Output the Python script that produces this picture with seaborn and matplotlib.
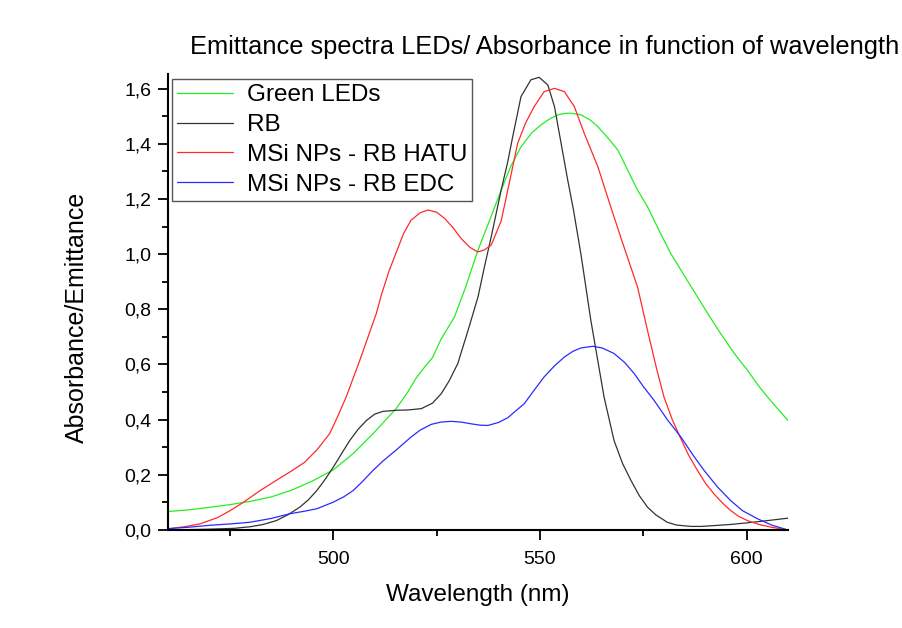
import numpy as np
import pandas as pd
import matplotlib
matplotlib.use("Agg")
import matplotlib.pyplot as plt
from matplotlib.ticker import MultipleLocator, FuncFormatter
import seaborn as sns

# ---- data ----
green_x = [460, 465, 470, 475, 480, 485, 490, 495, 500, 504.8, 509.6, 515.2, 518, 520, 522.1, 524,
           526, 529.3, 532, 535, 538, 540.6, 543, 545.4, 548, 550.2, 552.3, 554.3, 556, 557.5, 559.9,
           562, 564, 566.5, 568.8, 571.2, 573.6, 576, 579, 581.6, 585, 588.1, 591, 593.7, 597, 600.2,
           603, 606, 610]
green_y = [0.067, 0.073, 0.082, 0.092, 0.104, 0.12, 0.145, 0.178, 0.218, 0.277, 0.349, 0.44, 0.5, 0.55,
           0.591, 0.625, 0.69, 0.772, 0.88, 1.015, 1.13, 1.232, 1.32, 1.389, 1.44, 1.468, 1.49, 1.505,
           1.51, 1.511, 1.505, 1.488, 1.462, 1.42, 1.378, 1.305, 1.232, 1.172, 1.08, 1.003, 0.92, 0.845,
           0.775, 0.712, 0.64, 0.579, 0.52, 0.465, 0.397]

rb_x = [460, 470, 476, 480, 483, 486.2, 489, 491.9, 494, 496, 498, 500, 502, 504, 506, 508, 510, 512,
        515.2, 518, 521.3, 524, 526.1, 528, 530.1, 532.6, 535, 536.5, 538.2, 540.6, 542.2, 543.4, 545.4,
        547.8, 549.8, 551.9, 553.5, 555.1, 556.7, 558.1, 559.9, 562.3, 565.5, 567.9, 570, 572, 574, 576,
        578, 580.8, 583, 586.5, 589, 592.1, 596, 600.2, 605, 610]
rb_y = [0.0, 0.003, 0.006, 0.012, 0.02, 0.034, 0.055, 0.083, 0.11, 0.143, 0.183, 0.228, 0.277, 0.325,
        0.365, 0.397, 0.42, 0.43, 0.434, 0.435, 0.44, 0.46, 0.494, 0.54, 0.603, 0.724, 0.845, 0.95, 1.063,
        1.232, 1.335, 1.426, 1.571, 1.632, 1.641, 1.613, 1.535, 1.402, 1.269, 1.16, 1.0, 0.76, 0.482,
        0.325, 0.24, 0.18, 0.125, 0.083, 0.055, 0.028, 0.018, 0.013, 0.013, 0.016, 0.02, 0.026, 0.034, 0.043]

hatu_x = [460, 464, 467.7, 472, 475, 478.2, 482, 486.2, 490, 493.1, 496, 499.1, 501, 503.1, 506.4,
          510.4, 511.6, 513.5, 515.6, 517, 518.8, 521, 522.9, 525, 526.9, 529, 530.9, 533, 534.9, 536.5,
          538.2, 540.6, 542.6, 544.6, 546.5, 548.6, 551, 553.5, 555.9, 558.3, 560.7, 564, 567.1, 570,
          573.6, 576, 578.3, 580, 582, 584.1, 586, 588.1, 590, 592.1, 594, 596.1, 598, 600.2, 603, 606, 610]
hatu_y = [0.004, 0.012, 0.022, 0.045, 0.07, 0.10, 0.14, 0.18, 0.215, 0.246, 0.29, 0.349, 0.41, 0.482,
          0.615, 0.785, 0.851, 0.94, 1.021, 1.075, 1.123, 1.15, 1.16, 1.152, 1.13, 1.095, 1.057, 1.025,
          1.008, 1.015, 1.033, 1.12, 1.26, 1.402, 1.475, 1.535, 1.589, 1.601, 1.589, 1.535, 1.438, 1.317,
          1.172, 1.04, 0.881, 0.724, 0.579, 0.482, 0.4, 0.33, 0.27, 0.216, 0.17, 0.131, 0.1, 0.071, 0.05,
          0.034, 0.02, 0.01, 0.0]

edc_x = [460, 465, 470, 475, 479.8, 485, 489.5, 493, 496, 500, 502.5, 504.8, 507, 509.6, 512, 515.2,
         518.8, 521, 523.7, 526, 528.5, 531, 533.3, 535.5, 537.4, 540, 542.2, 544, 546.2, 548.5, 551,
         553.5, 555.9, 558, 559.9, 562.8, 565, 567.9, 570.5, 572.8, 575, 577.6, 580.8, 584.1, 587,
         589.7, 593, 596.1, 599, 602.6, 606, 610]
edc_y = [0.005, 0.01, 0.017, 0.022, 0.028, 0.042, 0.059, 0.068, 0.077, 0.101, 0.12, 0.143, 0.175, 0.216,
         0.25, 0.29, 0.337, 0.362, 0.383, 0.391, 0.394, 0.391, 0.385, 0.38, 0.379, 0.39, 0.407, 0.43,
         0.458, 0.505, 0.555, 0.595, 0.627, 0.648, 0.66, 0.666, 0.66, 0.64, 0.607, 0.567, 0.52, 0.47,
         0.4, 0.337, 0.272, 0.216, 0.155, 0.107, 0.07, 0.041, 0.018, 0.0]

labels = ["Green LEDs", "RB", "MSi NPs - RB HATU", "MSi NPs - RB EDC"]
colors = ["#22ee22", "#333333", "#ff2a2a", "#2a2aff"]

frames = []
for lab, xs, ys in zip(labels, [green_x, rb_x, hatu_x, edc_x], [green_y, rb_y, hatu_y, edc_y]):
    frames.append(pd.DataFrame({"wavelength": xs, "value": ys, "series": lab}))
df = pd.concat(frames, ignore_index=True)

sns.set_style("ticks")
plt.rcParams["font.family"] = ["Liberation Sans", "DejaVu Sans"]
plt.rcParams["text.color"] = "black"
plt.rcParams["axes.labelcolor"] = "black"
plt.rcParams["xtick.color"] = "black"
plt.rcParams["ytick.color"] = "black"

W, H = 903, 628
fig = plt.figure(figsize=(W / 100, H / 100), dpi=100)
ax = fig.add_axes([168 / W, 1 - 530 / H, (788 - 168) / W, (530 - 74) / H])

sns.lineplot(data=df, x="wavelength", y="value", hue="series", hue_order=labels,
             palette=dict(zip(labels, colors)), estimator=None, sort=True,
             linewidth=0.9, ax=ax)

ax.set_xlim(460, 610)
ax.set_ylim(0, 1.653)
ax.xaxis.set_major_locator(MultipleLocator(50))
ax.xaxis.set_minor_locator(MultipleLocator(25))
ax.yaxis.set_major_locator(MultipleLocator(0.2))
ax.yaxis.set_minor_locator(MultipleLocator(0.1))
ax.yaxis.set_major_formatter(FuncFormatter(lambda v, p: f"{v:.1f}".replace(".", ",")))
ax.tick_params(axis="both", which="major", direction="out", length=7, width=1.3, labelsize=14, pad=5,
               colors="black")
ax.tick_params(axis="x", which="major", pad=8)
ax.tick_params(axis="both", which="minor", direction="out", length=4, width=1.3, colors="black")
for s in ["top", "right"]:
    ax.spines[s].set_visible(False)
for s in ["left", "bottom"]:
    ax.spines[s].set_linewidth(1.5)
    ax.spines[s].set_color("black")

ax.set_xlabel("Wavelength (nm)", fontsize=17.5, labelpad=12)
ax.set_ylabel("Absorbance/Emittance", fontsize=18)
ax.yaxis.set_label_coords((89 - 168) / 620, (530 - 317) / 456)

fig.text(545 / W, 1 - 47 / H, "Emittance spectra LEDs/ Absorbance in function of wavelength",
         ha="center", va="center", fontsize=18.3)

leg = ax.legend(loc="upper left", bbox_to_anchor=(172 / W, 1 - 79 / H), bbox_transform=fig.transFigure,
                borderaxespad=0, fontsize=17.5, frameon=True, fancybox=False, handlelength=2.3,
                handletextpad=0.55, labelspacing=0.32, borderpad=0.22, title=None)
leg.get_frame().set_edgecolor("#555555")
leg.get_frame().set_linewidth(1.0)
leg.get_frame().set_alpha(1)

fig.savefig("out.png", dpi=100, facecolor="white")
